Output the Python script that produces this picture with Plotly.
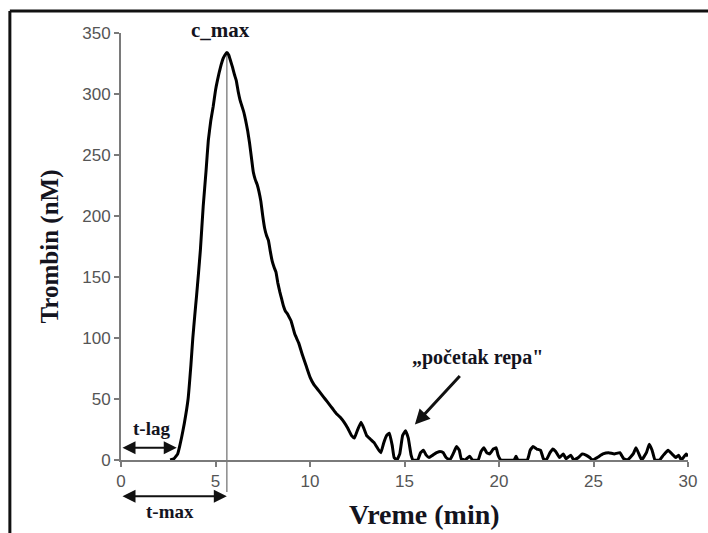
import plotly.graph_objects as go

# Thrombin generation curve (time in min, thrombin in nM)
time_min = [2.6, 2.8, 3.0, 3.1, 3.2, 3.35, 3.55, 3.7, 3.8, 3.9, 4.0, 4.1, 4.2, 4.35, 4.5, 4.62,
            4.75, 4.88, 5.0, 5.1, 5.2, 5.3, 5.4, 5.5, 5.6, 5.7, 5.8, 5.9, 6.0, 6.1, 6.2, 6.3, 6.4,
            6.5, 6.6, 6.7, 6.8, 6.9, 7.0, 7.1, 7.2, 7.3, 7.4, 7.5, 7.6, 7.7, 7.8, 7.9, 8.0, 8.1, 8.2,
            8.3, 8.4, 8.5, 8.6, 8.7, 8.8, 8.9, 9.0, 9.2, 9.4, 9.6, 9.8, 10.0, 10.2, 10.4, 10.6, 10.8,
            11.0, 11.2, 11.4, 11.6, 11.8, 12.0, 12.2, 12.35, 12.5, 12.7, 12.85, 13.0, 13.2, 13.4,
            13.6, 13.75, 13.9, 14.05, 14.2, 14.35, 14.45, 14.6, 14.75, 14.9, 15.05, 15.2, 15.35,
            15.45, 15.7, 15.85, 16.0, 16.15, 16.3, 16.5, 16.7, 16.9, 17.05, 17.2, 17.4, 17.6, 17.75,
            17.9, 18.0, 18.2, 18.45, 18.6, 18.9, 19.05, 19.2, 19.35, 19.5, 19.7, 19.85, 19.95, 20.1,
            20.8, 20.9, 21.0, 21.5, 21.65, 21.8, 22.0, 22.2, 22.35, 22.5, 22.7, 22.85, 23.0, 23.2,
            23.4, 23.55, 23.8, 23.95, 24.2, 24.4, 24.6, 24.8, 24.95, 25.2, 25.5, 25.8, 26.1, 26.4,
            26.6, 26.8, 27.1, 27.25, 27.4, 27.55, 27.8, 27.95, 28.1, 28.25, 28.5, 28.7, 28.95, 29.15,
            29.35, 29.5, 29.65, 29.9, 30.0]
thrombin_nM = [0, 1, 5, 11, 18, 30, 50, 78, 100, 118, 135, 153, 172, 208, 237, 262,
               278, 290, 303, 311, 318, 324, 329, 332, 334, 332, 327, 322, 316, 311, 302, 295, 290,
               285, 278, 270, 260, 248, 236, 230, 226, 220, 212, 200, 190, 184, 180, 171, 163, 158, 154,
               145, 138, 132, 126, 122, 120, 117, 114, 103, 96, 86, 77, 68, 62, 58, 54, 50,
               46, 42, 38, 35, 31, 26, 20, 18, 24, 31, 26, 20, 17, 14,
               9, 6, 14, 20, 22, 12, 2, 0, 5, 20, 24, 18, 4,
               0, 0, 6, 8, 4, 2, 4, 6, 7, 6, 2, 0, 6, 11,
               8, 1, 0, 3, 0, 0, 7, 10, 6, 5, 9, 10, 4, 0,
               0, 3, 0, 0, 8, 11, 9, 8, 1, 0, 6, 9, 7, 2,
               5, 1, 4, 0, 2, 5, 4, 2, 0, 2, 5, 6, 5, 6,
               1, 0, 5, 10, 5, 0, 6, 13, 8, 0, 0, 4, 8, 5,
               2, 4, 0, 5, 3]

x_ticks = [0, 5, 10, 15, 20, 25, 30]
y_ticks = [0, 50, 100, 150, 200, 250, 300, 350]

t_lag = 2.95
t_max = 5.6
c_max = 334

serif = "Liberation Serif, Times New Roman, serif"
sans = "Liberation Sans, Arial, sans-serif"
txt_col = "#14141e"
axis_col = "#7a7a7a"

fig = go.Figure()
fig.add_trace(go.Scatter(
    x=time_min, y=thrombin_nM, mode="lines",
    line=dict(color="#000000", width=3, shape="spline", smoothing=0.3),
    hoverinfo="x+y", showlegend=False))

fig.update_layout(
    width=708, height=533,
    margin=dict(l=121, r=20, t=33, b=73),
    paper_bgcolor="white", plot_bgcolor="white",
    xaxis=dict(range=[0, 30], tickvals=x_ticks, ticktext=[str(v) for v in x_ticks],
               showline=True, linecolor=axis_col, linewidth=2,
               ticks="outside", ticklen=5, tickwidth=1.5, tickcolor=axis_col,
               showgrid=False, zeroline=False, automargin=False,
               tickfont=dict(family=sans, size=17, color="#555555")),
    yaxis=dict(range=[0, 350], tickvals=y_ticks, ticktext=[str(v) for v in y_ticks],
               showline=True, linecolor=axis_col, linewidth=2,
               ticks="outside", ticklen=5, tickwidth=1.5, tickcolor=axis_col,
               showgrid=False, zeroline=False, automargin=False,
               tickfont=dict(family=sans, size=17, color="#555555"),
               title=dict(text="<b>Trombin (nM)</b>", standoff=16,
                          font=dict(family=serif, size=25, color=txt_col))),
)

# x-axis title (placed right of centre as in the original)
fig.add_annotation(x=0.536, y=-0.127, xref="paper", yref="paper", yanchor="middle",
                   text="<b>Vreme (min)</b>", showarrow=False,
                   font=dict(family=serif, size=28, color=txt_col))

# vertical line at t_max
fig.add_shape(type="line", xref="x", yref="paper", x0=t_max, x1=t_max, y0=-0.075, y1=0.955,
              line=dict(color="#8a8a8a", width=1.5), layer="below")

# image frame (left and top)
fig.add_shape(type="line", xref="paper", yref="paper", x0=-0.196, x1=1.04, y0=1.0515, y1=1.0515,
              line=dict(color="#111111", width=3))
fig.add_shape(type="line", xref="paper", yref="paper", x0=-0.196, x1=-0.196, y0=1.0515, y1=-0.2,
              line=dict(color="#111111", width=3))

ann_font = dict(family=serif, color=txt_col)
fig.add_annotation(x=5.29, y=1.007, xref="x", yref="paper", yanchor="middle", text="<b>c_max</b>",
                   showarrow=False, font=dict(size=21, **ann_font))
fig.add_annotation(x=1.6, y=26, xref="x", yref="y", text="<b>t-lag</b>", showarrow=False,
                   font=dict(size=19, **ann_font))
fig.add_annotation(x=2.6, y=-0.12, xref="x", yref="paper", yanchor="middle", text="<b>t-max</b>",
                   showarrow=False, font=dict(size=19, **ann_font))
fig.add_annotation(x=18.84, y=84, xref="x", yref="y", text="<b>\u201epo\u010detak repa\"</b>",
                   showarrow=False, font=dict(size=20, **ann_font))

# arrows
fig.add_annotation(x=t_lag, y=10, ax=0, ay=10, xref="x", yref="y", axref="x", ayref="y",
                   text="", showarrow=True, arrowside="end+start", arrowhead=2, startarrowhead=2,
                   arrowsize=1.3, startarrowsize=1.3, arrowwidth=2, arrowcolor="#111111")
fig.add_annotation(x=t_max, y=-0.085, ax=-t_max * 567 / 30, ay=0, xref="x", yref="paper",
                   axref="pixel", ayref="pixel",
                   text="", showarrow=True, arrowside="end+start", arrowhead=2, startarrowhead=2,
                   arrowsize=1.3, startarrowsize=1.3, arrowwidth=2, arrowcolor="#111111")
fig.add_annotation(x=15.55, y=29, ax=18.0, ay=70, xref="x", yref="y", axref="x", ayref="y",
                   text="", showarrow=True, arrowhead=2, arrowsize=1, arrowwidth=3,
                   arrowcolor="#111111")

fig.write_html("out.html")
